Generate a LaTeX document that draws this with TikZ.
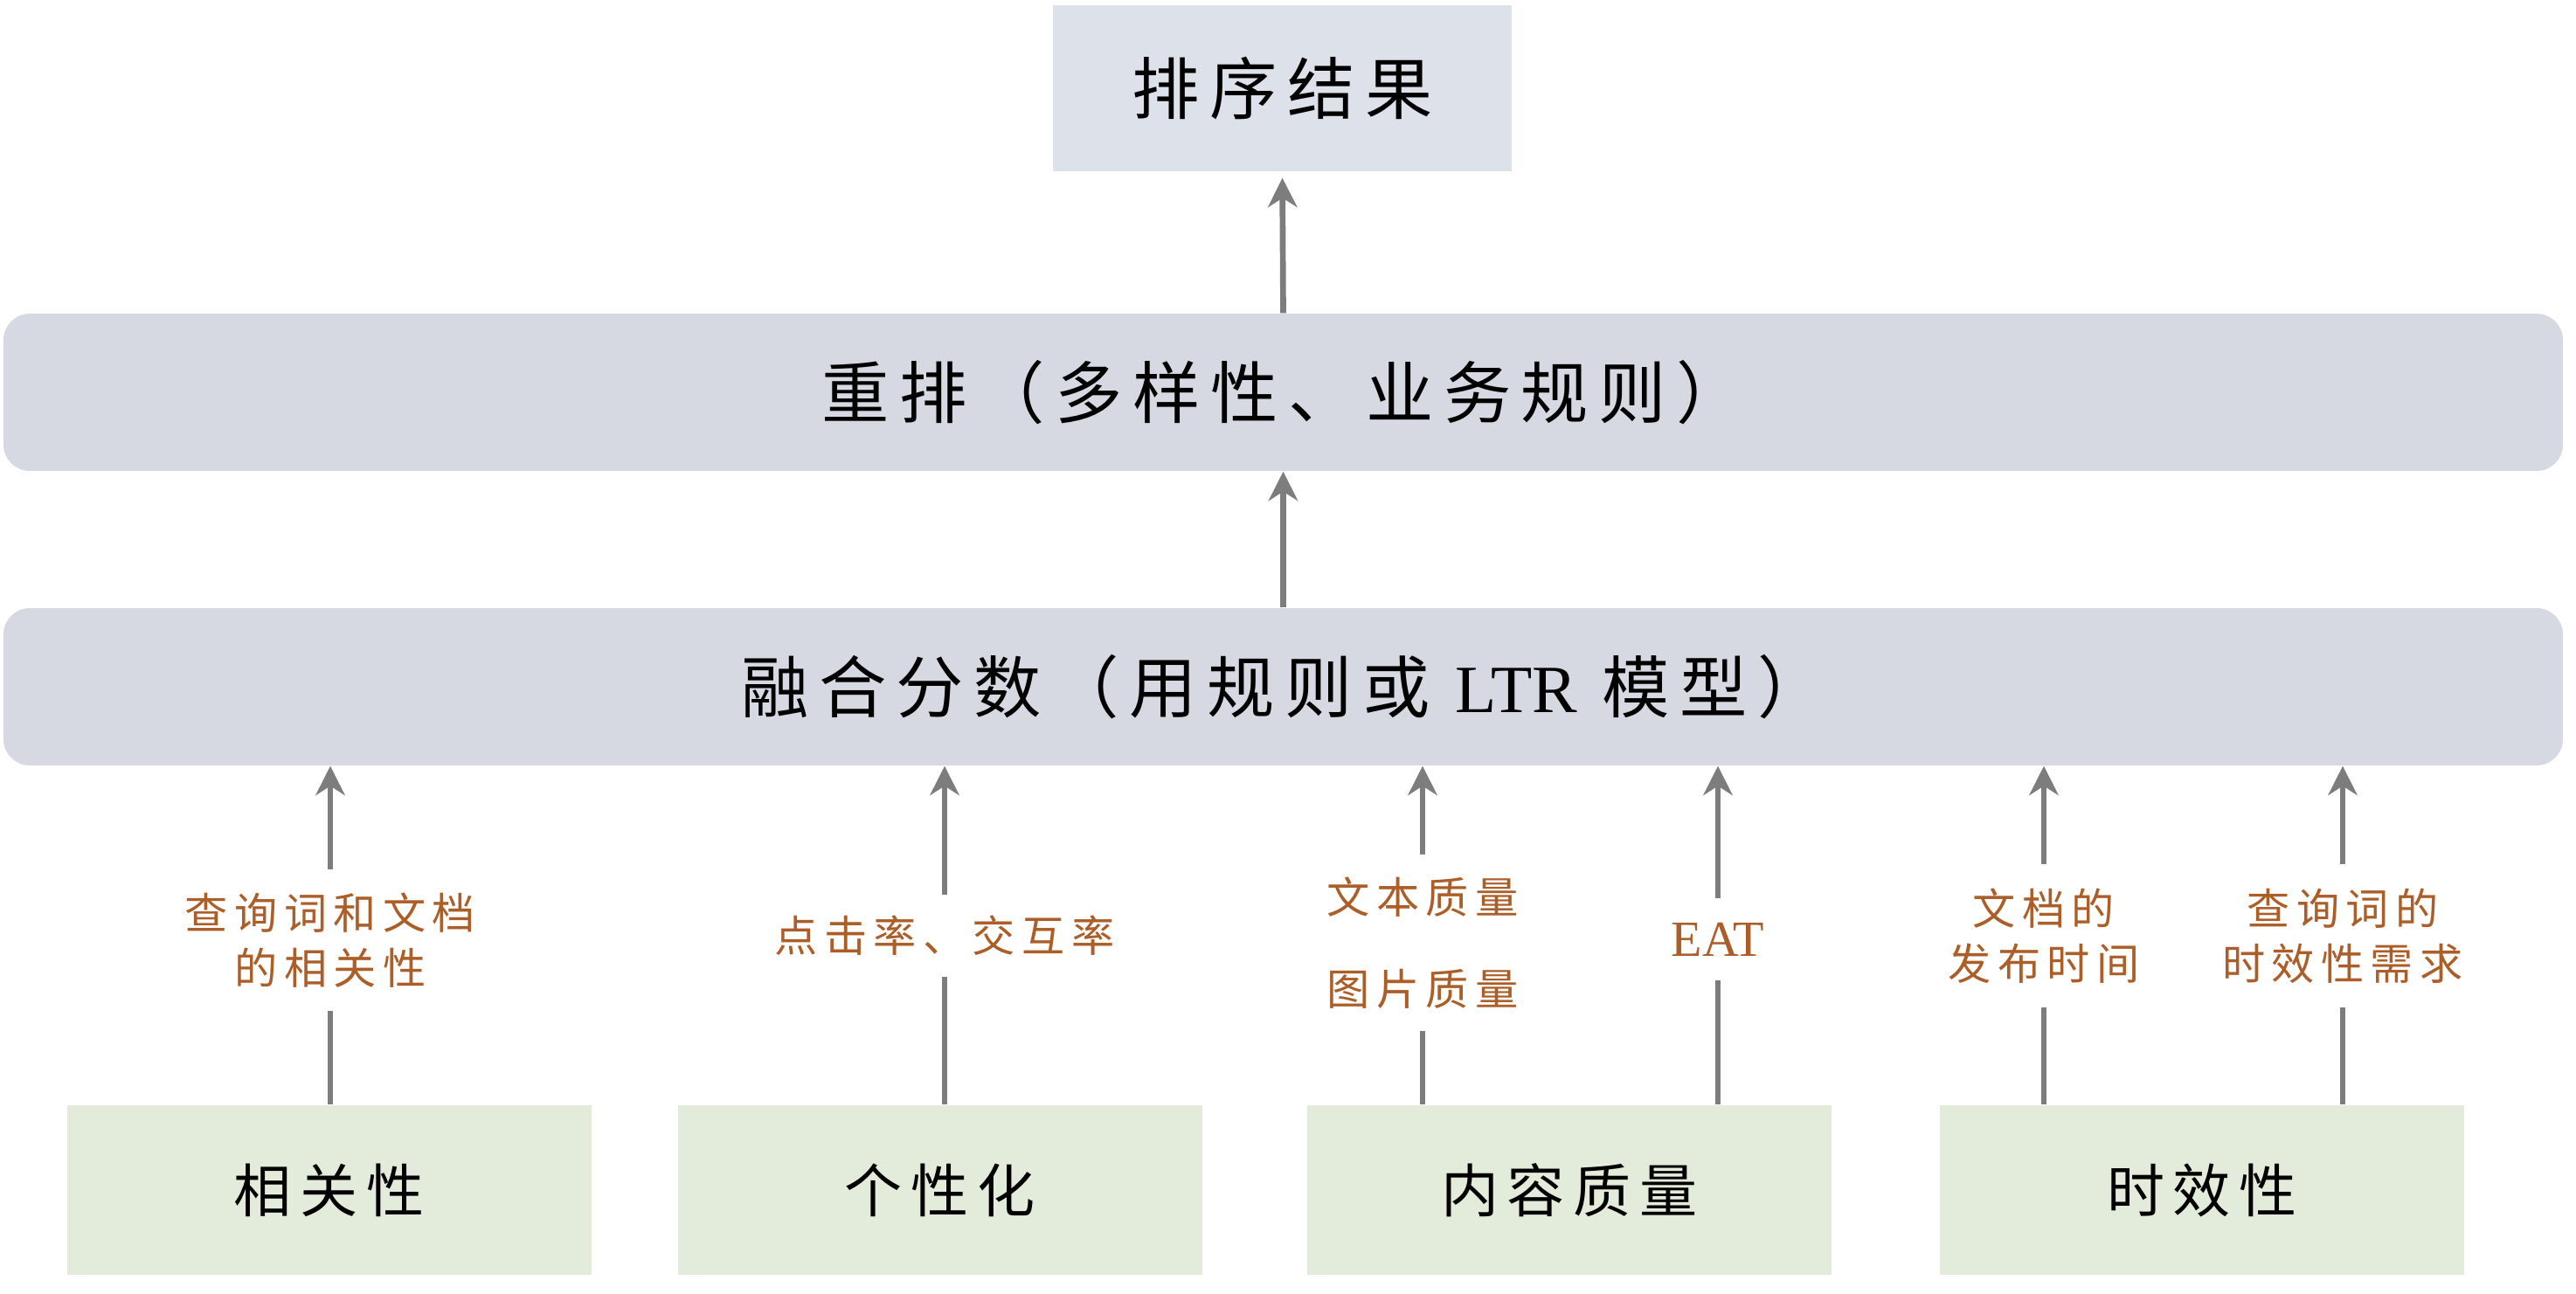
\documentclass[tikz,border=0pt]{standalone}
\usepackage{fontspec}
\usetikzlibrary{arrows.meta}
\newfontfamily\cjk[LetterSpace=15]{Noto Sans CJK SC}
\newfontfamily\lat{Liberation Serif}
\definecolor{barc}{RGB}{214,217,225}
\definecolor{topc}{RGB}{221,225,234}
\definecolor{leafc}{RGB}{227,236,218}
\definecolor{lblc}{RGB}{172,94,40}
\definecolor{arrc}{RGB}{125,125,125}
\tikzset{
  topbox/.style={fill=topc, minimum width=5.25cm, minimum height=1.90cm, inner sep=0pt,
    font=\cjk\fontsize{22pt}{26pt}\selectfont},
  barbox/.style={fill=barc, rounded corners=0.3cm, minimum width=29.29cm, minimum height=1.80cm, inner sep=0pt,
    font=\cjk\fontsize{22pt}{26pt}\selectfont},
  leafbox/.style={fill=leafc, minimum width=6.0cm, minimum height=1.94cm, inner sep=0pt,
    font=\cjk\fontsize{18.8pt}{22pt}\selectfont},
  lbl/.style={text=lblc, inner sep=0pt, align=center,
    font=\cjk\fontsize{14pt}{18pt}\selectfont},
  conn/.style={draw=arrc, line width=1.9pt},
  arr/.style={conn, -{Stealth[length=9.5pt,width=9.5pt,inset=3pt]}},
}
\begin{document}
\begin{tikzpicture}
\useasboundingbox (0,0) rectangle (29.48,14.80);
\fill[white] (0,0) rectangle (29.48,14.80);

\node[topbox] (res) at (14.675,13.79) {排序结果};
\node[barbox] (rerank) at (14.685,10.31) {重排（多样性、业务规则）};
\node[barbox] (fuse) at (14.685,6.94) {融合分数（用规则或 {\lat LTR} 模型）};

\node[leafbox] (b1) at (3.77,1.18) {相关性};
\node[leafbox] (b2) at (10.76,1.18) {个性化};
\node[leafbox] (b3) at (17.96,1.18) {内容质量};
\node[leafbox] (b4) at (25.20,1.18) {时效性};

\node[lbl, minimum height=1.61cm] (l1) at (3.78,4.04) {查询词和文档\\的相关性};
\node[lbl, minimum height=0.92cm] (l2) at (10.81,4.09) {点击率、交互率};
\node[lbl, minimum height=2.00cm] (l3) at (16.28,4.01) {文本质量\\[12pt]图片质量};
\node[lbl, minimum height=0.92cm, font=\lat\fontsize{16.5pt}{19pt}\selectfont] (l4) at (19.66,4.05) {EAT};
\node[lbl, minimum height=1.62cm] (l5) at (23.39,4.09) {文档的\\发布时间};
\node[lbl, minimum height=1.62cm] (l6) at (26.81,4.09) {查询词的\\时效性需求};

\foreach \b/\l in {b1/l1, b2/l2, b3/l3, b3/l4, b4/l5, b4/l6} {
  \draw[conn] (\b.north -| \l) -- (\l.south);
  \draw[arr] (\l.north) -- (\l.north |- fuse.south);
}

\draw[arr] (fuse.north) -- (rerank.south);
\draw[arr, shorten >=2pt] (rerank.north) -- (res.south);
\end{tikzpicture}
\end{document}
